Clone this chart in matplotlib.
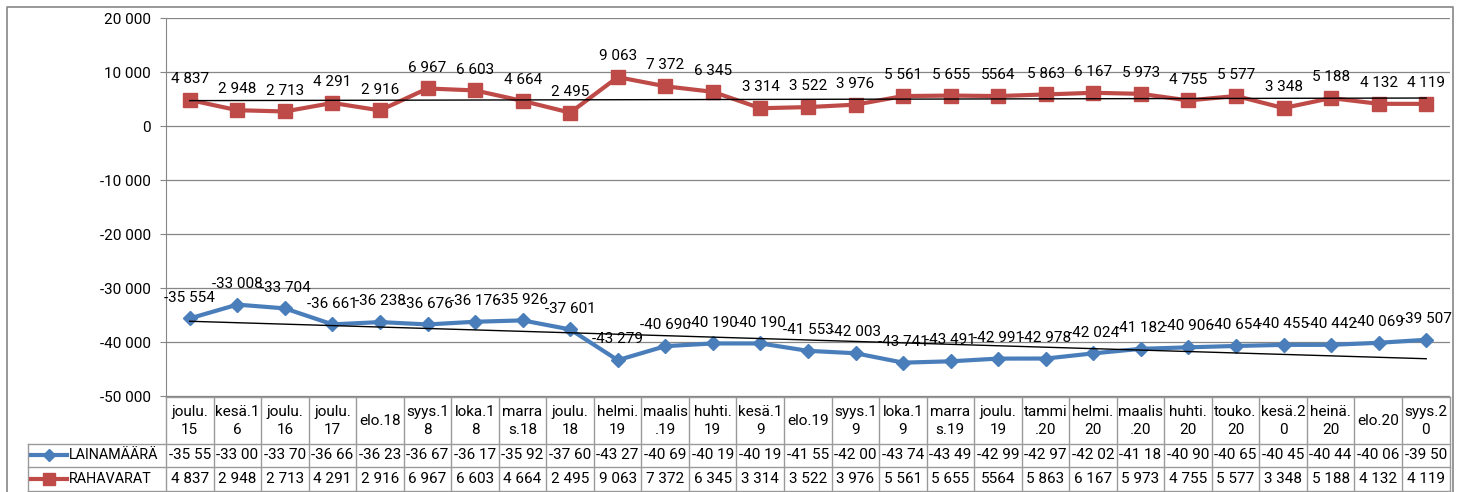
import numpy as np
import matplotlib.pyplot as plt
from matplotlib.ticker import FuncFormatter

plt.rcParams['font.family'] = ['Roboto', 'DejaVu Sans']
plt.rcParams['font.size'] = 11

# Kuukaudet (rivitetty kuten taulukossa)
categories = ['joulu.\n15', 'kesä.1\n6', 'joulu.\n16', 'joulu.\n17', 'elo.18',
              'syys.1\n8', 'loka.1\n8', 'marra\ns.18', 'joulu.\n18', 'helmi.\n19',
              'maalis\n.19', 'huhti.\n19', 'kesä.1\n9', 'elo.19', 'syys.1\n9',
              'loka.1\n9', 'marra\ns.19', 'joulu.\n19', 'tammi\n.20', 'helmi.\n20',
              'maalis\n.20', 'huhti.\n20', 'touko.\n20', 'kesä.2\n0', 'heinä.\n20',
              'elo.20', 'syys.2\n0']

lainamaara = [-35554, -33008, -33704, -36661, -36238, -36676, -36176, -35926, -37601,
              -43279, -40690, -40190, -40190, -41553, -42003, -43741, -43491, -42991,
              -42978, -42024, -41182, -40906, -40654, -40455, -40442, -40069, -39507]

rahavarat = [4837, 2948, 2713, 4291, 2916, 6967, 6603, 4664, 2495, 9063, 7372, 6345,
             3314, 3522, 3976, 5561, 5655, 5564, 5863, 6167, 5973, 4755, 5577, 3348,
             5188, 4132, 4119]

# joulu.19 rahavarat oli muotoiltu ilman välilyöntiä
no_sep = {('RAHAVARAT', 17)}

BLUE = '#4A7EBB'
RED = '#BE4B48'
GRAY = '#868686'
TGRAY = '#9A9A9A'


def fmt(v):
    return f'{int(v):,}'.replace(',', ' ')


def label(name, i, v):
    if (name, i) in no_sep:
        return str(v)
    return fmt(v)


W, H = 1463, 492
fig = plt.figure(figsize=(W / 100, H / 100), dpi=100)

X0, X1 = 166, 1450
Y_TOP, Y_BOT = 18, 396.5
ax = fig.add_axes([X0 / W, 1 - Y_BOT / H, (X1 - X0) / W, (Y_BOT - Y_TOP) / H])

n = len(categories)
x = np.arange(n)

ax.plot(x, lainamaara, color=BLUE, lw=3, marker='D', ms=7, zorder=3)
ax.plot(x, rahavarat, color=RED, lw=3, marker='s', ms=9.5, zorder=3)

# lineaariset trendiviivat
for vals in (lainamaara, rahavarat):
    k, b = np.polyfit(x, vals, 1)
    ax.plot(x, k * x + b, color='black', lw=1, zorder=4)

for name, vals in (('LAINAMÄÄRÄ', lainamaara), ('RAHAVARAT', rahavarat)):
    for i, v in enumerate(vals):
        ax.annotate(label(name, i, v), (i, v), xytext=(0, 15), textcoords='offset points',
                    ha='center', va='center', zorder=5)

ax.set_xlim(-0.5, n - 0.5)
ax.set_ylim(-50000, 20000)
ax.set_yticks(range(-50000, 20001, 10000))
ax.yaxis.set_major_formatter(FuncFormatter(lambda v, p: fmt(v)))
ax.set_xticks([])
ax.grid(axis='y', color=GRAY, lw=0.9)
ax.set_axisbelow(True)
for s in ('top', 'right', 'bottom'):
    ax.spines[s].set_visible(False)
ax.spines['left'].set_color(GRAY)
ax.tick_params(axis='y', length=4, color=GRAY, pad=7, labelsize=11)
ax.patch.set_alpha(0)

# Taulukko ja reunus pikselikoordinaateissa
ov = fig.add_axes([0, 0, 1, 1], zorder=-1)
ov.set_xlim(0, W)
ov.set_ylim(H, 0)
ov.axis('off')

ov.plot([7, 7, 1453, 1453], [H, 7, 7, H], color=GRAY, lw=1.2, clip_on=False)

TX1 = 1449.5
cw = (TX1 - X0) / n
LX = 27.7
R1, R2, R3 = 443.5, 467, 491
ov.plot([X0, TX1], [Y_BOT, Y_BOT], color=TGRAY, lw=1)
for yy in (R1, R2, R3):
    ov.plot([LX, TX1], [yy, yy], color=TGRAY, lw=1)
for j in range(n + 1):
    xx = X0 + j * cw
    ov.plot([xx, xx], [Y_BOT, R3], color=TGRAY, lw=1)
ov.plot([LX, LX], [R1, R3], color=TGRAY, lw=1)

for i, c in enumerate(categories):
    cx = X0 + (i + 0.5) * cw
    ov.text(cx, (Y_BOT + R1) / 2 + 1, c, ha='center', va='center', linespacing=1.3)
    ov.text(cx, (R1 + R2) / 2, fmt(lainamaara[i])[:6], ha='center', va='center')
    ov.text(cx, (R2 + R3) / 2, label('RAHAVARAT', i, rahavarat[i]), ha='center', va='center')

rows = [('LAINAMÄÄRÄ', BLUE, 'D', 6, (R1 + R2) / 2),
        ('RAHAVARAT', RED, 's', 9, (R2 + R3) / 2)]
for name, col, mk, ms, yy in rows:
    ov.plot([31, 67], [yy, yy], color=col, lw=3)
    ov.plot([49], [yy], color=col, marker=mk, ms=ms)
    ov.text(69, yy, name, ha='left', va='center', fontsize=10.3)

fig.savefig('out.png', dpi=100)
